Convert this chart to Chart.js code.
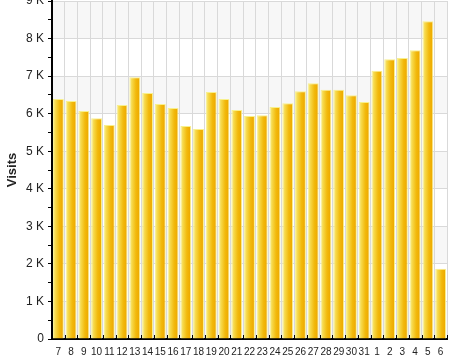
<!DOCTYPE html>
<html>
<head>
<meta charset="utf-8">
<script src="https://cdn.jsdelivr.net/npm/chart.js@4/dist/chart.umd.min.js"></script>
<style>
	html, body { margin: 0; padding: 0; background: #fff; }
	#wrap { width: 450px; height: 360px; }
</style>
</head>
<body>
<div id="wrap"><canvas id="visitsChart"></canvas></div>
<script>
var days = ["7","8","9","10","11","12","13","14","15","16","17","18","19","20","21","22","23","24","25","26","27","28","29","30","31","1","2","3","4","5","6"];
var visits = [6390,6340,6070,5880,5700,6230,6970,6550,6260,6150,5670,5590,6580,6390,6100,5940,5960,6180,6280,6600,6810,6640,6640,6490,6310,7140,7450,7480,7690,8460,1870];
var yMax = 9000;
var yStep = 500;

function kLabel (v) {
	if (v % 1000 !== 0) return '';
	return v === 0 ? '0' : (v / 1000) + ' K';
}

// alternating grey bands between the 1K grid lines
var bandPlugin = {
	id: 'bands',
	beforeDraw: function (chart) {
		var ctx = chart.ctx, area = chart.chartArea, y = chart.scales.y;
		ctx.save();
		ctx.fillStyle = '#f7f7f7';
		for (var v = 0; v < yMax; v += 2000) {
			var top = y.getPixelForValue(v + 1000), bot = y.getPixelForValue(v);
			ctx.fillRect(area.left, top, area.right - area.left, bot - top);
		}
		ctx.fillRect(area.left, y.getPixelForValue(9000), area.right - area.left, y.getPixelForValue(8000) - y.getPixelForValue(9000));
		ctx.restore();
	},
	afterDraw: function (chart) {
		// short black ticks pointing up from the x axis, at category edges
		var ctx = chart.ctx, area = chart.chartArea, x = chart.scales.x;
		var half = (x.getPixelForValue(1) - x.getPixelForValue(0)) / 2;
		ctx.save();
		ctx.strokeStyle = '#000';
		ctx.lineWidth = 1;
		ctx.beginPath();
		for (var i = 0; i <= days.length; i++) {
			var px = Math.round(x.getPixelForValue(i) - half) + 0.5;
			ctx.moveTo(px, area.bottom);
			ctx.lineTo(px, area.bottom - 4);
		}
		ctx.stroke();
		ctx.restore();
	}
};

function barFill (context) {
	var chart = context.chart;
	var x = chart.scales.x;
	if (!x) return '#f2c010';
	var cx = x.getPixelForValue(context.dataIndex);
	var w = (x.getPixelForValue(1) - x.getPixelForValue(0)) * 0.84;
	if (!isFinite(cx) || !isFinite(w) || w <= 0) return '#f2c010';
	var g = chart.ctx.createLinearGradient(cx - w / 2, 0, cx + w / 2, 0);
	g.addColorStop(0, '#f9ee90');
	g.addColorStop(0.25, '#f6d848');
	g.addColorStop(0.6, '#f2b90c');
	g.addColorStop(0.9, '#eeaa00');
	g.addColorStop(1, '#f4c640');
	return g;
}

function loadVisitsChart () {
	var ctx = document.getElementById("visitsChart");
	var chart = new Chart(ctx, {
		type: 'bar',
		data: {
			labels: days,
			datasets: [{
				data: visits,
				backgroundColor: barFill,
				borderColor: '#f8f08c',
				borderWidth: 1,
				categoryPercentage: 1,
				barPercentage: 0.85
			}]
		},
		options: {
			responsive: true,
			maintainAspectRatio: false,
			animation: false,
			layout: { padding: { top: 1, right: 3, left: 0, bottom: 0 } },
			plugins: {
				legend: { display: false },
				tooltip: { enabled: false }
			},
			scales: {
				x: {
					grid: { color: '#d9d9d9', drawTicks: false, offset: true },
					border: { color: '#000', width: 2 },
					ticks: {
						autoSkip: false, maxRotation: 0, minRotation: 0, padding: 7,
						color: '#222',
						font: { family: 'Liberation Sans', size: 10 }
					},
					afterFit: function (scale) {
						scale.height = 21;
						scale.paddingLeft = 0;
						scale.paddingRight = 0;
					}
				},
				y: {
					min: 0,
					max: yMax,
					grid: {
						color: function (c) { return c.tick && c.tick.value % 1000 ? 'rgba(0,0,0,0)' : '#d9d9d9'; },
						tickColor: '#000',
						tickLength: 4
					},
					border: { color: '#000', width: 2 },
					ticks: {
						stepSize: yStep,
						autoSkip: false,
						padding: 4,
						color: '#222',
						font: { family: 'Liberation Sans', size: 12 },
						callback: function (v) { return kLabel(v); }
					},
					title: {
						display: true,
						text: 'Visits',
						color: '#222',
						padding: { top: 5, bottom: 0 },
						font: { family: 'Liberation Sans', size: 13, weight: 'bold' }
					},
					afterFit: function (scale) {
						scale.width = 52;
						scale.paddingTop = 0;
						scale.paddingBottom = 0;
					}
				}
			}
		},
		plugins: [bandPlugin]
	});
	chart.update('none');
}
window.addEventListener("load", function(){ loadVisitsChart(); });
</script>
</body>
</html>
